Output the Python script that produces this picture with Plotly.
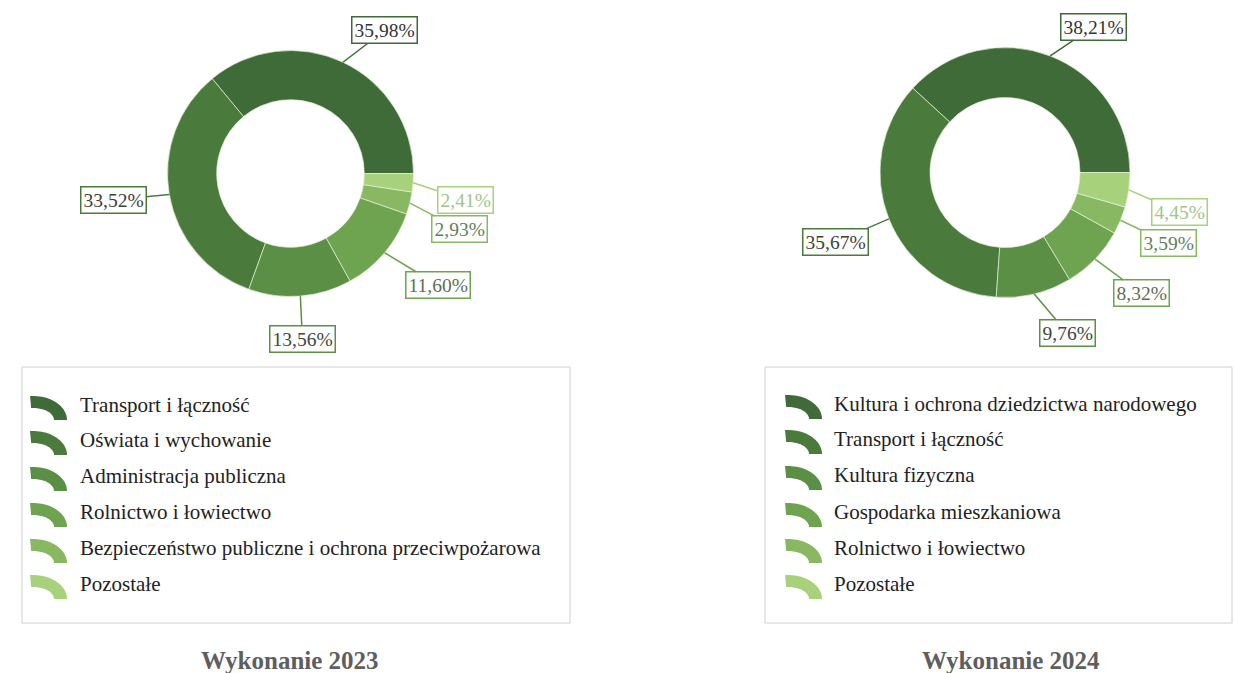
import math
import plotly.graph_objects as go

W, H = 1234, 673

# ---------------- data ----------------
cats_2023 = ["Transport i łączność", "Oświata i wychowanie", "Administracja publiczna",
             "Rolnictwo i łowiectwo", "Bezpieczeństwo publiczne i ochrona przeciwpożarowa", "Pozostałe"]
vals_2023 = [35.98, 33.52, 13.56, 11.60, 2.93, 2.41]

cats_2024 = ["Kultura i ochrona dziedzictwa narodowego", "Transport i łączność", "Kultura fizyczna",
             "Gospodarka mieszkaniowa", "Rolnictwo i łowiectwo", "Pozostałe"]
vals_2024 = [38.21, 35.67, 9.76, 8.32, 3.59, 4.45]

titles = ["Wykonanie 2023", "Wykonanie 2024"]

# ---------------- styles ----------------
greens = ["#3e6b37", "#4a7b3c", "#5b8f45", "#6ea34f", "#88b962", "#a8d17c"]
label_text_colors = ["#333333", "#3a3f38", "#404540", "#5d6e56", "#62805a", "#a0c48c"]
FONT = "Liberation Serif"

panels = [
    dict(cats=cats_2023, vals=vals_2023, title=titles[0],
         cx=290.5, cy=173.5, r=123,
         offsets=[(42, -32), (-56, 5), (2, 43), (53, 32), (50, 26), (52, 17)],
         box=(22, 367, 570, 623), icon_x=33, text_x=78,
         rows=[405, 440, 476, 512, 548, 584], title_x=290, title_y=660),
    dict(cats=cats_2024, vals=vals_2024, title=titles[1],
         cx=1005, cy=172.5, r=125,
         offsets=[(43, -29), (-53, 23), (33, 39), (46, 34), (48, 23), (51, 22)],
         box=(765, 367, 1232, 623), icon_x=788, text_x=832,
         rows=[404, 439, 475, 512, 548, 584], title_x=1011, title_y=660),
]


def px(x):
    return x / W


def py(y):
    return 1 - y / H


fig = go.Figure()
annotations = []
shapes = []

for p in panels:
    cx, cy, r = p["cx"], p["cy"], p["r"]
    total = sum(p["vals"])
    # first slice starts at 3 o'clock and slices run counterclockwise
    rot = 90 - 360 * p["vals"][0] / total
    fig.add_trace(go.Pie(
        labels=p["cats"], values=p["vals"], hole=0.6, sort=False,
        direction="counterclockwise", rotation=rot,
        marker=dict(colors=greens, line=dict(color="rgba(230,242,215,0.85)", width=0.8)),
        textinfo="none", hoverinfo="label+percent", showlegend=False,
        domain=dict(x=[px(cx - r), px(cx + r)], y=[py(cy + r), py(cy - r)]),
    ))

    # percentage labels with leader lines, anchored at mid-angle of each slice
    cum = 0.0
    for i, v in enumerate(p["vals"]):
        mid = (cum + v / 2) / total * 2 * math.pi
        cum += v
        ax_pt = cx + r * math.cos(mid)
        ay_pt = cy - r * math.sin(mid)
        ox, oy = p["offsets"][i]
        annotations.append(dict(
            x=px(ax_pt), y=py(ay_pt), xref="paper", yref="paper",
            text=f"{v:.2f}".replace(".", ",") + "%",
            showarrow=True, arrowhead=0, arrowwidth=1.5, arrowcolor=greens[i],
            ax=ox, ay=oy, standoff=0,
            bordercolor=greens[i], borderwidth=1.5, borderpad=2, bgcolor="white",
            font=dict(family=FONT, size=19.5, color=label_text_colors[i]),
        ))

    # legend box
    x0, y0, x1, y1 = p["box"]
    shapes.append(dict(type="rect", xref="paper", yref="paper",
                       x0=px(x0), x1=px(x1), y0=py(y1), y1=py(y0),
                       line=dict(color="#cfcfcf", width=1), fillcolor="rgba(0,0,0,0)"))

    # legend entries: arc icons + text
    for i, name in enumerate(p["cats"]):
        yc = p["rows"][i]
        icx, icy = p["icon_x"], yc + 15
        Rx, Ry, rx, ry = 34, 24, 21, 12
        pts = []
        n = 24
        for k in range(n + 1):
            t = math.radians(95 - 95 * k / n)
            pts.append((icx + Rx * math.cos(t), icy - Ry * math.sin(t)))
        for k in range(n + 1):
            t = math.radians(95 * k / n)
            pts.append((icx + rx * math.cos(t), icy - ry * math.sin(t)))
        path = "M " + " L ".join(f"{px(a):.5f},{py(b):.5f}" for a, b in pts) + " Z"
        shapes.append(dict(type="path", xref="paper", yref="paper", path=path,
                           fillcolor=greens[i], line=dict(width=0)))
        annotations.append(dict(
            x=px(p["text_x"]), y=py(yc), xref="paper", yref="paper",
            xanchor="left", yanchor="middle", showarrow=False, text=name,
            font=dict(family=FONT, size=21, color="#222222"),
        ))

    annotations.append(dict(
        x=px(p["title_x"]), y=py(p["title_y"]), xref="paper", yref="paper",
        xanchor="center", yanchor="middle", showarrow=False,
        text="<b>" + p["title"] + "</b>",
        font=dict(family=FONT, size=25, color="#5e5e5e"),
    ))

fig.update_layout(
    width=W, height=H, margin=dict(l=0, r=0, t=0, b=0),
    paper_bgcolor="white", plot_bgcolor="white",
    annotations=annotations, shapes=shapes, showlegend=False,
)

fig.write_html("out.html", config={"displayModeBar": False},
               post_script="document.body.style.margin='0';")
